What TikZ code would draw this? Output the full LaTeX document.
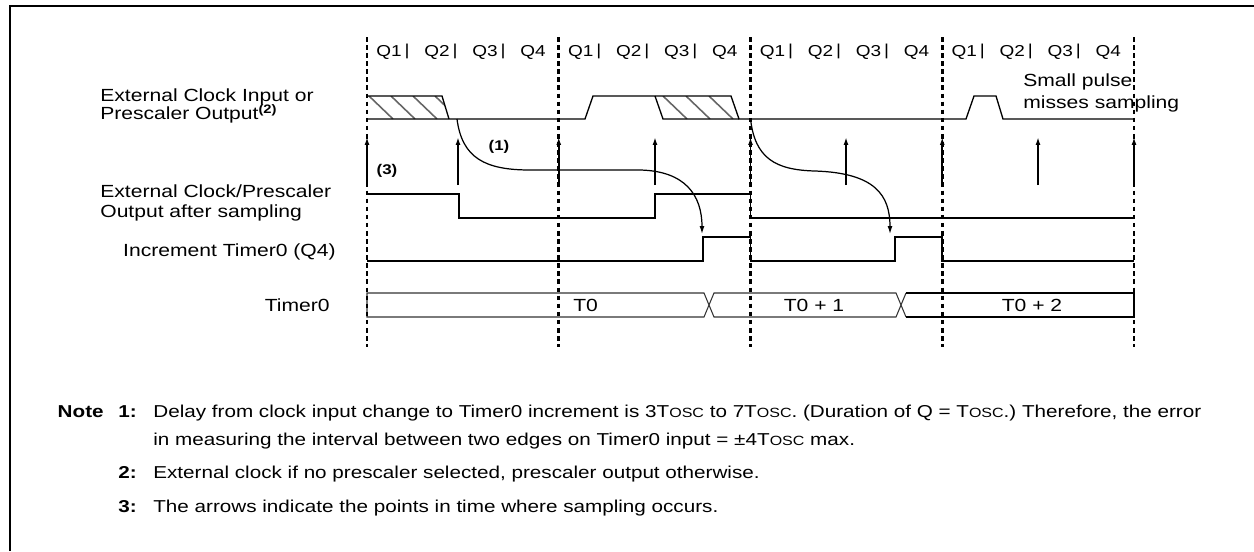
\documentclass[tikz,border=0pt]{standalone}
\usepackage{fontspec}
\setmainfont[FakeStretch=1.2]{Liberation Sans}
\usetikzlibrary{arrows.meta}

\newcommand{\tosc}{T{\fontsize{7.6}{8}\selectfont OSC}}

\tikzset{
	gridline/.style={line width=1.6pt, dash pattern=on 2.6pt off 2pt},
	wave/.style={line width=0.75pt},
	level/.style={line width=1.1pt},
	bus/.style={line width=0.6pt, black!80},
	hatch/.style={line width=0.9pt, black!60},
	sample/.style={line width=1.1pt, -{Latex[length=4.5pt,width=2.8pt]}},
	delay/.style={line width=0.7pt, -{Latex[length=4.5pt,width=2.8pt]}},
	sig/.style={font=\fontsize{10}{10.5}\selectfont, inner sep=0pt, align=left},
	qlbl/.style={font=\fontsize{9}{10}\selectfont, inner sep=0pt},
	ref/.style={font=\fontsize{8}{9}\selectfont\bfseries, inner sep=0pt},
	note/.style={font=\fontsize{9.8}{12}\selectfont, inner sep=0pt, anchor=base west},
}

\begin{document}
\begin{tikzpicture}[x=0.02cm, y=-0.02cm]
	\useasboundingbox (0,0) rectangle (1254,551);
	\draw[line width=1.4pt] (10,551) -- (10,6) -- (1254,6);

	% signal names
	\node[sig, anchor=west] (clkin) at (100,106) {External Clock Input or\\[-1.5pt]Prescaler Output\textsuperscript{\bfseries(2)}};
	\node[sig, anchor=west] (sampled) at (100,203) {External Clock/Prescaler\\[0.5pt]Output after sampling};
	\node[sig, anchor=east] (incr) at (336,252) {Increment Timer0 (Q4)};
	\node[sig, anchor=east] (timer) at (330,305) {Timer0};

	% quarter labels
	\foreach \c in {0,...,3} {
		\foreach \q in {1,...,4}
			\node[qlbl] (q\c\q) at (367+191.75*\c+48*\q-26, 52) {Q\q};
		\foreach \b in {1,2,3}
			\node[qlbl] (bar\c\b) at (367+191.75*\c+48*\b-8, 51) {|};
	}

	% hatched (unknown) parts of the input
	\begin{scope}
		\clip (367,96) -- (442,96) -- (449,119) -- (367,119) -- cycle;
		\foreach \x in {369,391,413,435} \draw[hatch] (\x,96) -- ++(24,23);
	\end{scope}
	\begin{scope}
		\clip (655,96) -- (731,96) -- (739,119) -- (663,119) -- cycle;
		\foreach \x in {663,686,709} \draw[hatch] (\x,96) -- ++(24,23);
	\end{scope}

	% waveforms
	\draw[wave] (367,119) -- (585,119) -- (593,96) -- (731,96) -- (739,119) -- (966,119) -- (974,96) -- (996,96) -- (1003,119) -- (1134,119);
	\draw[wave] (367,96) -- (442,96) -- (449,119);
	\draw[wave] (655,96) -- (663,119) -- (739,119);
	\draw[level] (367,194) -| (459,218) -| (655,194) -| (750.5,218) -- (1134,218);
	\draw[level] (367,261) -| (703,237) -| (750.5,261) -| (895,237) -| (942.25,261) -- (1134,261);
	\draw[bus] (906,293) -- (896,317) -- (714,317) -- (704,293) -- (367,293) -- (367,317) -- (704,317) -- (714,293) -- (896,293) -- (906,317);
	\draw[level] (906,317) -- (1134,317) -- (1134,293) -- (906,293);
	\node[sig, anchor=west] (t0) at (573,305) {T0};
	\node[sig] (t1) at (814,305) {T0 + 1};
	\node[sig] (t2) at (1032,305) {T0 + 2};
	\node[sig, anchor=west, font=\fontsize{10}{12.5}\selectfont] (pulse) at (1023,93) {Small pulse\\misses sampling};

	% cycle boundaries
	\foreach \c in {0,...,4} {
		\coordinate (gt\c) at (367+191.75*\c, 37);
		\coordinate (gb\c) at (367+191.75*\c, 347);
		\draw[gridline] (gt\c) -- (gb\c);
	}

	% sampling points
	\foreach \x [count=\i] in {367,458,558.75,655,750.5,846,942.25,1038,1134} {
		\coordinate (sb\i) at (\x,185);
		\coordinate (st\i) at (\x,137);
		\draw[sample] (sb\i) -- (st\i);
	}

	% delays
	\coordinate (d1s) at (457,119);
	\coordinate (d1e) at (702,234);
	\coordinate (d2s) at (750.5,119);
	\coordinate (d2e) at (890,234);
	\draw[delay] (d1s) .. controls (462,158) and (485,170) .. (530,170) -- (640,170) .. controls (685,171) and (702,195) .. (d1e);
	\draw[delay] (d2s) .. controls (755,158) and (775,170) .. (815,171) .. controls (875,173) and (890,195) .. (d2e);
	\node[ref] (r1) at (499,147) {(1)};
	\node[ref] (r3) at (387,171) {(3)};

	% notes
	\node[note, anchor=base east, font=\fontsize{9.8}{12}\selectfont\bfseries] (note) at (104,417) {Note};
	\node[note, font=\fontsize{9.8}{12}\selectfont\bfseries] (n1) at (118,417) {1:};
	\node[note, font=\fontsize{9.8}{12}\selectfont\bfseries] (n2) at (118,478) {2:};
	\node[note, font=\fontsize{9.8}{12}\selectfont\bfseries] (n3) at (118,512) {3:};
	\node[note] (t1a) at (153,417) {Delay from clock input change to Timer0 increment is 3\tosc{} to 7\tosc. (Duration of Q = \tosc.) Therefore, the error};
	\node[note] (t1b) at (153,445) {in measuring the interval between two edges on Timer0 input = ±4\tosc{} max.};
	\node[note] (t2) at (153,478) {External clock if no prescaler selected, prescaler output otherwise.};
	\node[note] (t3) at (153,512) {The arrows indicate the points in time where sampling occurs.};
\end{tikzpicture}
\end{document}
